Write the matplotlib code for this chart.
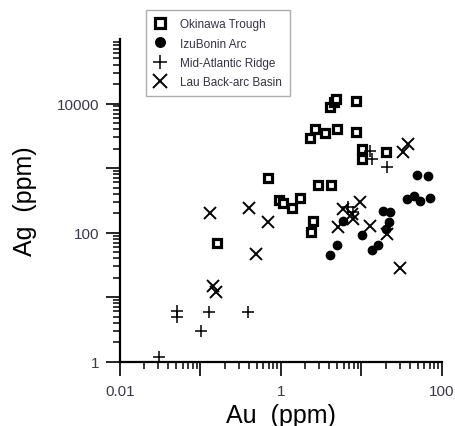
import matplotlib
matplotlib.use("Agg")
import matplotlib.pyplot as plt
from matplotlib.ticker import FixedLocator, FixedFormatter, NullFormatter

plt.rcParams['font.family'] = ['Liberation Sans', 'DejaVu Sans']

# Au (ppm), Ag (ppm)
okinawa_au = [4.06, 4.55, 4.82, 8.55, 2.29, 2.64, 3.52, 4.96, 8.55, 10.1, 10.1,
              20.1, 2.88, 4.18, 0.69, 0.94, 1.06, 1.37, 1.72, 2.50, 2.36, 0.16]
okinawa_ag = [8770, 10480, 11660, 10860, 2900, 4000, 3470, 4000, 3590, 1960, 1373,
              1760, 544, 544, 698, 319, 286, 239, 342, 151, 102, 68.8]

izu_au = [48.9, 67.0, 36.7, 44.9, 53.3, 71.0, 18.5, 22.6, 22.0, 20.1,
          5.89, 10.1, 4.96, 4.06, 16.0, 13.5]
izu_ag = [776, 749, 330, 367, 307, 342, 215, 208, 145, 113,
          151, 91.5, 64.0, 44.9, 64.0, 53.6]

mar_au = [0.0305, 0.051, 0.051, 0.101, 0.128, 0.389, 12.8, 13.5, 20.7, 6.79, 7.84]
mar_ag = [1.18, 6.09, 4.92, 2.99, 5.88, 5.88, 1830, 1373, 1032, 248, 208]

lau_au = [0.131, 0.40, 0.69, 0.489, 0.143, 0.156, 37.8, 32.8, 5.89, 7.62,
          9.58, 5.11, 7.84, 12.8, 20.7, 30.1]
lau_ag = [200, 239, 145, 46.5, 14.9, 12.0, 2350, 1760, 231, 193,
          297, 122, 162, 126, 94.8, 28.2]

x_major = [0.01, 0.1, 1, 10, 100]
x_labels = ["0.01", "", "1", "", "100"]
y_major = [1, 10, 100, 1000, 10000]
y_labels = ["1", "", "100", "", "10000"]

fig = plt.figure(figsize=(4.55, 4.27), dpi=100)
ax = fig.add_axes([0.2637, 0.1506, 0.7077, 0.7557])

ax.plot(okinawa_au, okinawa_ag, 's', ms=6.3, mfc='white', mec='black', mew=2.3,
        ls='none', label='Okinawa Trough')
ax.plot(izu_au, izu_ag, 'o', ms=6, color='black', ls='none', label='IzuBonin Arc')
ax.plot(mar_au, mar_ag, '+', ms=9, color='black', mew=1.1, ls='none',
        label='Mid-Atlantic Ridge')
ax.plot(lau_au, lau_ag, 'x', ms=9, color='black', mew=1.4, ls='none',
        label='Lau Back-arc Basin')

ax.set_xscale('log')
ax.set_yscale('log')
ax.set_xlim(0.01, 100)
ax.set_ylim(1, 100000)

ax.spines['top'].set_visible(False)
ax.spines['right'].set_visible(False)
ax.spines['left'].set_linewidth(1.6)
ax.spines['bottom'].set_linewidth(1.6)

ax.xaxis.set_major_locator(FixedLocator(x_major))
ax.xaxis.set_major_formatter(FixedFormatter(x_labels))
ax.yaxis.set_major_locator(FixedLocator(y_major))
ax.yaxis.set_major_formatter(FixedFormatter(y_labels))

x_minor = [m * d for d in [0.01, 0.1, 1, 10] for m in range(2, 10)]
y_minor = [m * d for d in [1, 10, 100, 1000, 10000] for m in range(2, 10)]
ax.xaxis.set_minor_locator(FixedLocator(x_minor))
ax.yaxis.set_minor_locator(FixedLocator(y_minor))
ax.xaxis.set_minor_formatter(NullFormatter())
ax.yaxis.set_minor_formatter(NullFormatter())

ax.tick_params(which='major', direction='out', length=10, width=1.2,
               labelsize=11, labelcolor='#3a3a4a')
ax.tick_params(which='minor', direction='out', length=5, width=1.1)
ax.tick_params(axis='y', which='major', pad=5)
ax.tick_params(axis='x', which='major', pad=6)

ax.set_xlabel('Au  (ppm)', fontsize=18, labelpad=4)
ax.set_ylabel('Ag  (ppm)', fontsize=18, labelpad=14)

leg = fig.legend(loc='upper left', bbox_to_anchor=(146 / 455, 1 - 11 / 427),
                 borderaxespad=0, fontsize=8.5, frameon=True, fancybox=False,
                 handlelength=1.0, handletextpad=1.2, labelspacing=0.62,
                 borderpad=0.7, markerscale=1.15)
leg.get_frame().set_edgecolor('#999999')
leg.get_frame().set_linewidth(1.0)
for t in leg.get_texts():
    t.set_color('#333344')

fig.savefig('out.png', dpi=100)
